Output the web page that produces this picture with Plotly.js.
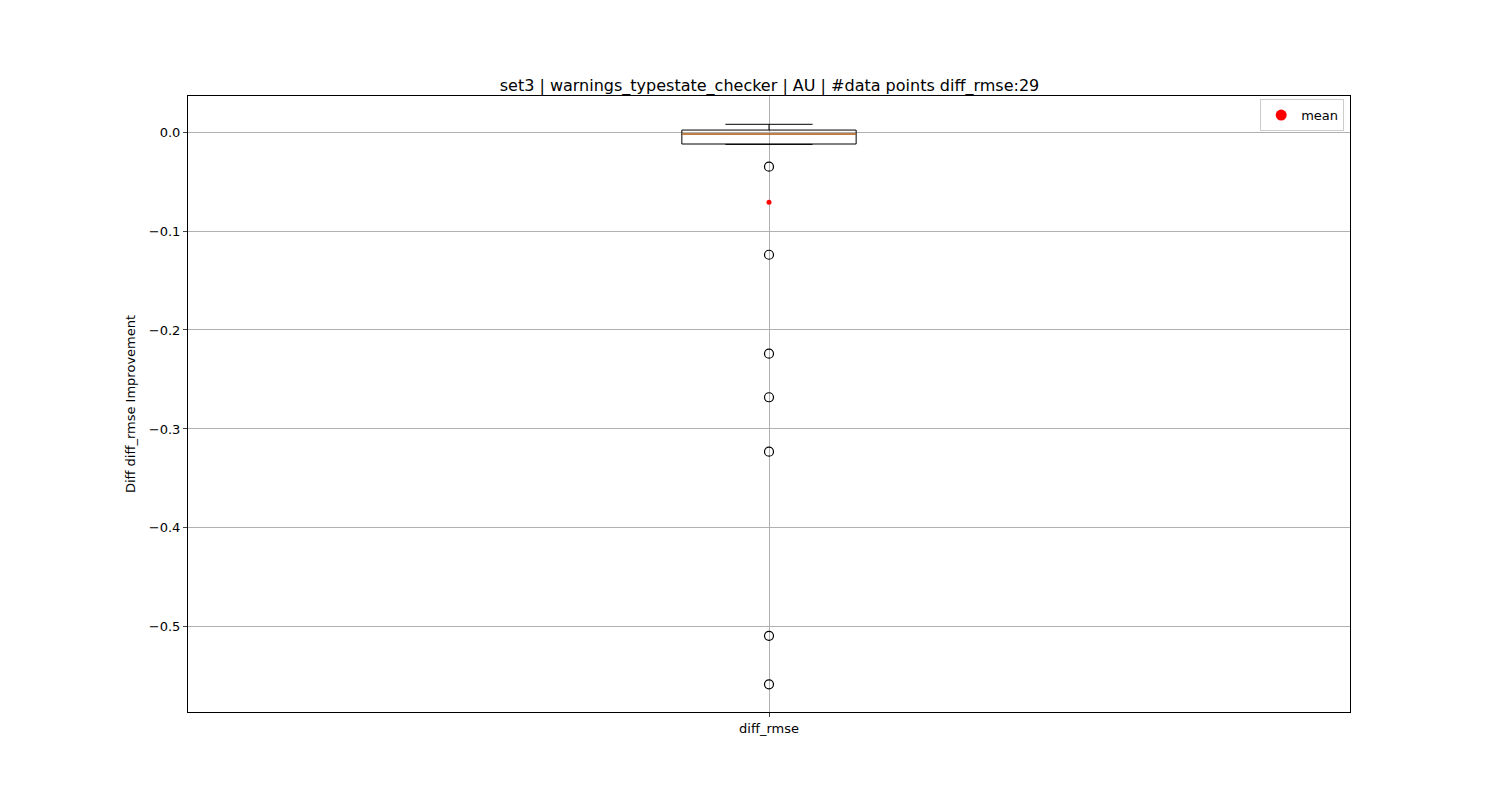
<!DOCTYPE html>
<html><head><script src="https://cdn.plot.ly/plotly-3.0.1.min.js"></script></head>
<body style="margin:0"><div id="c" style="width:1500px;height:800px"></div>
<script>
const category = 'diff_rmse';
const q1 = -0.0121, median = -0.002, q3 = 0.002, lowerWhisker = -0.0125, upperWhisker = 0.0078;
const outliers = [-0.035, -0.124, -0.224, -0.268, -0.323, -0.509, -0.558];
const meanValue = -0.071;
const pos = 1, bw = 0.15;
const traces = [
 {type:'box', x:[pos], q1:[q1], median:[median], q3:[q3], lowerfence:[lowerWhisker], upperfence:[upperWhisker],
  width:bw, whiskerwidth:0.5, fillcolor:'rgba(0,0,0,0)', line:{color:'black',width:1}, showlegend:false, hoverinfo:'skip'},
 {type:'scatter', mode:'lines', x:[pos-bw/2, pos+bw/2], y:[median, median], line:{color:'#ff7f0e',width:1.2}, showlegend:false},
 {type:'scatter', mode:'markers', x:outliers.map(()=>pos), y:outliers, marker:{symbol:'circle-open',size:9,color:'black',line:{width:1.2}}, showlegend:false},
 {type:'scatter', mode:'markers', x:[pos], y:[meanValue], name:'mean', marker:{color:'red',size:5}, showlegend:false},
 {type:'scatter', mode:'markers', x:[null], y:[null], name:'mean', marker:{color:'red',size:11}}
];
const layout = {
 width:1500, height:800, margin:{l:188,r:150,t:96,b:88},
 paper_bgcolor:'white', plot_bgcolor:'white',
 font:{family:'DejaVu Sans', size:13, color:'black'},
 title:{text:'set3 | warnings_typestate_checker | AU | #data points diff_rmse:29', x:0.513, xanchor:'center', yref:'paper', y:1, yanchor:'bottom', pad:{b:5}, font:{size:16}},
 xaxis:{range:[0.5,1.5], tickvals:[pos], ticktext:[category], showgrid:true, gridcolor:'#b0b0b0', zeroline:false,
  showline:true, linecolor:'black', mirror:true, ticks:'outside', ticklen:4},
 yaxis:{range:[-0.586,0.0364], tickvals:[0,-0.1,-0.2,-0.3,-0.4,-0.5], ticktext:['0.0','−0.1','−0.2','−0.3','−0.4','−0.5'],
  showgrid:true, gridcolor:'#b0b0b0', zeroline:false, showline:true, linecolor:'black', mirror:true, ticks:'outside', ticklen:4,
  title:{text:'Diff diff_rmse Improvement', standoff:10, font:{size:13}}},
 legend:{x:0.995, y:0.995, xanchor:'right', yanchor:'top', bordercolor:'#cccccc', borderwidth:1, bgcolor:'white'}
};
Plotly.newPlot('c', traces, layout, {displayModeBar:false});
</script></body></html>
